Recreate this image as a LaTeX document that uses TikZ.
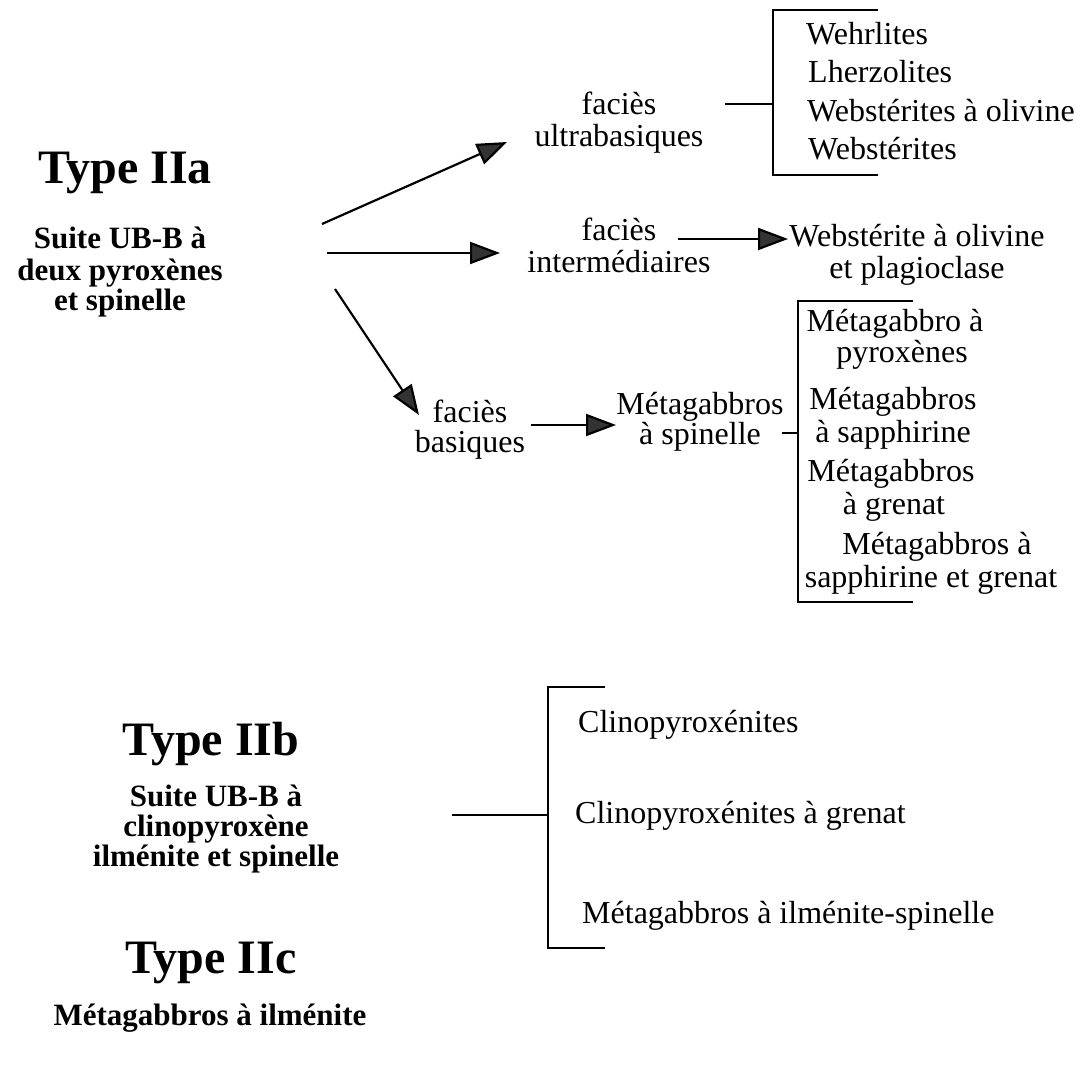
\documentclass[tikz,border=0pt]{standalone}
\usepackage{fontspec}
\setmainfont{Liberation Serif}
\usetikzlibrary{arrows.meta}
\begin{document}
\begin{tikzpicture}[x=1pt,y=-1pt,
  txt/.style={font=\fontsize{32}{33}\selectfont, inner sep=0pt, anchor=base},
  ltxt/.style={font=\fontsize{32}{33}\selectfont, inner sep=0pt, anchor=base west},
  head/.style={font=\fontsize{48}{50}\selectfont\bfseries, inner sep=0pt, anchor=base},
  sub/.style={font=\fontsize{31}{30}\selectfont\bfseries, inner sep=0pt, anchor=base},
  arr/.style={line width=2.2pt, -{Triangle[length=30pt,width=22pt,fill=black!80]}},
  ln/.style={line width=2.2pt},
  br/.style={line width=2.4pt}]
\useasboundingbox (0,0) rectangle (1082,1070);

% Type IIa
\node[head] (tA) at (125,183) {Type IIa};
\node[sub] (sA1) at (120,248) {Suite UB-B à};
\node[sub] (sA2) at (120,280) {deux pyroxènes};
\node[sub] (sA3) at (120,310) {et spinelle};

\node[txt] (fu1) at (619,115) {faciès};
\node[txt] (fu2) at (619,147) {ultrabasiques};
\node[txt] (fi1) at (619,240) {faciès};
\node[txt] (fi2) at (619,272) {intermédiaires};
\node[txt] (fb1) at (470,422) {faciès};
\node[txt] (fb2) at (470,452) {basiques};
\node[txt] (ms1) at (700,414) {Métagabbros};
\node[txt] (ms2) at (700,444) {à spinelle};
\node[txt] (wp1) at (917,246) {Webstérite à olivine};
\node[txt] (wp2) at (917,278) {et plagioclase};

\coordinate (a1s) at (322,224); \coordinate (a1e) at (507,142);
\coordinate (a2s) at (327,253); \coordinate (a2e) at (500,253);
\coordinate (a3s) at (335,289); \coordinate (a3e) at (419,415);
\coordinate (a4s) at (678,239); \coordinate (a4e) at (788,239);
\coordinate (a5s) at (531,425); \coordinate (a5e) at (616,425);
\draw[arr] (a1s) -- (a1e);
\draw[arr] (a2s) -- (a2e);
\draw[arr] (a3s) -- (a3e);
\draw[arr] (a4s) -- (a4e);
\draw[arr] (a5s) -- (a5e);

% ultrabasic list
\coordinate (b1) at (773,104); \coordinate (l1) at (725,104);
\draw[ln] (l1) -- (b1);
\draw[br] (878,10) -- (773,10) -- (773,175) -- (878,175);
\node[ltxt] (we) at (806,45) {Wehrlites};
\node[ltxt] (lh) at (808,83) {Lherzolites};
\node[ltxt] (wo) at (807,122) {Webstérites à olivine};
\node[ltxt] (ws) at (808,160) {Webstérites};

% basic list
\coordinate (b2) at (798,433); \coordinate (l2) at (782,433);
\draw[ln] (l2) -- (b2);
\draw[br] (913,301) -- (798,301) -- (798,602) -- (913,602);
\node[txt] (m1a) at (895,331) {Métagabbro à};
\node[txt] (m1b) at (902,362) {pyroxènes};
\node[txt] (m2a) at (893,409) {Métagabbros};
\node[txt] (m2b) at (893,442) {à sapphirine};
\node[txt] (m3a) at (891,481) {Métagabbros};
\node[txt] (m3b) at (894,514) {à grenat};
\node[txt] (m4a) at (937,554) {Métagabbros à};
\node[txt] (m4b) at (931,587) {sapphirine et grenat};

% Type IIb
\node[head] (tB) at (211,755) {Type IIb};
\node[sub] (sB1) at (216,806) {Suite UB-B à};
\node[sub] (sB2) at (216,836) {clinopyroxène};
\node[sub] (sB3) at (216,866) {ilménite et spinelle};
\coordinate (b3) at (548,815); \coordinate (l3) at (452,815);
\draw[ln] (l3) -- (b3);
\draw[br] (605,687) -- (548,687) -- (548,948) -- (605,948);
\node[ltxt] (c1) at (578,732) {Clinopyroxénites};
\node[ltxt] (c2) at (575,823) {Clinopyroxénites à grenat};
\node[ltxt] (c3) at (582,923) {Métagabbros à ilménite-spinelle};

% Type IIc
\node[head] (tC) at (211,973) {Type IIc};
\node[sub] (sC) at (210,1025) {Métagabbros à ilménite};
\end{tikzpicture}
\end{document}
